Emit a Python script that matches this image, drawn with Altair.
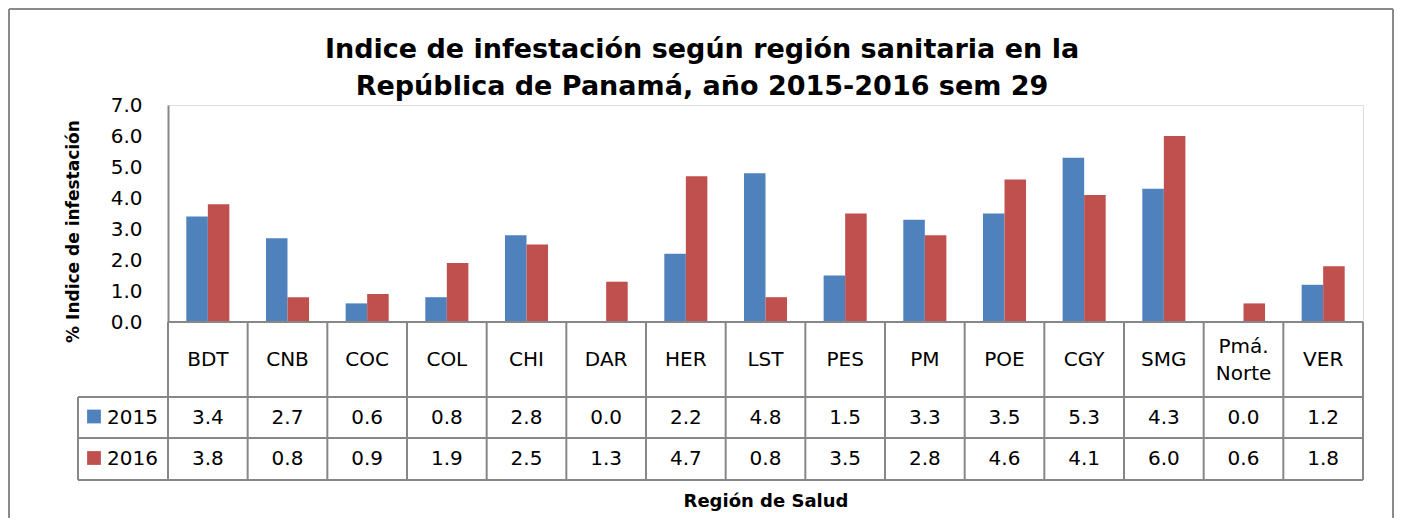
import altair as alt
import pandas as pd

# ---------------- data ----------------
regions = ["BDT", "CNB", "COC", "COL", "CHI", "DAR", "HER", "LST", "PES", "PM",
           "POE", "CGY", "SMG", "Pmá. Norte", "VER"]
header_labels = ["BDT", "CNB", "COC", "COL", "CHI", "DAR", "HER", "LST", "PES", "PM",
                 "POE", "CGY", "SMG", "Pmá.\nNorte", "VER"]
series = ["2015", "2016"]
values_2015 = [3.4, 2.7, 0.6, 0.8, 2.8, 0.0, 2.2, 4.8, 1.5, 3.3, 3.5, 5.3, 4.3, 0.0, 1.2]
values_2016 = [3.8, 0.8, 0.9, 1.9, 2.5, 1.3, 4.7, 0.8, 3.5, 2.8, 4.6, 4.1, 6.0, 0.6, 1.8]
colors = ["#4F81BD", "#C0504D"]
y_ticks = [0, 1, 2, 3, 4, 5, 6, 7]
title_lines = ["Indice de infestación según región sanitaria en la",
               "República de Panamá, año 2015-2016 sem 29"]
y_title = "% Indice de infestación"
x_title = "Región de Salud"

# ---------------- layout ----------------
F = "DejaVu Sans"
FS = 20
W, H = 1195, 217
PAD_L, PAD_T = 160, 97
TOTAL_W, TOTAL_H = 1386, 510
GRID = "#878787"
HDR_BOTTOM, R1_BOTTOM, R2_BOTTOM = 292, 333, 375
HDR_C, R1_C, R2_C = 255, 312.5, 354
LEG_LEFT = -90
LINE_H = 27
row_centers = [R1_C, R2_C]

df = pd.DataFrame({
    "region": regions * 2,
    "serie": [series[0]] * len(regions) + [series[1]] * len(regions),
    "value": values_2015 + values_2016,
})
hdr = pd.DataFrame({"region": regions, "label": header_labels})
hdr["nlines"] = hdr["label"].str.count("\n") + 1

xscale = alt.Scale(domain=regions, paddingInner=0, paddingOuter=0)

bars = alt.Chart(df).mark_bar().encode(
    x=alt.X("region:N", scale=xscale, sort=regions,
            axis=alt.Axis(labels=False, ticks=False, domain=False, grid=False,
                          title=x_title, titleFont=F, titleFontSize=18,
                          titleFontWeight="bold", titleColor="black",
                          titlePadding=170)),
    xOffset=alt.XOffset("serie:N", scale=alt.Scale(domain=series, paddingInner=0,
                                                    paddingOuter=0.85)),
    y=alt.Y("value:Q", scale=alt.Scale(domain=[0, 7], nice=False),
            axis=alt.Axis(values=y_ticks, format=".1f", ticks=False, grid=False,
                          domainColor=GRID, domainWidth=2,
                          labelFont=F, labelFontSize=FS, labelColor="black",
                          labelPadding=26,
                          title=y_title, titleFont=F, titleFontSize=17,
                          titleFontWeight="bold", titleColor="black",
                          titleX=-86, titleY=126)),
    color=alt.Color("serie:N", scale=alt.Scale(domain=series, range=colors), legend=None),
)

# table grid: vertical lines at category edges
vlines = alt.Chart(hdr).mark_rule(color=GRID, strokeWidth=2).encode(
    x=alt.X("region:N", scale=xscale, sort=regions, bandPosition=0),
    y=alt.value(H), y2=alt.value(R2_BOTTOM),
)
lines_df = pd.DataFrame({
    "x1": [0, LEG_LEFT, LEG_LEFT, LEG_LEFT, W, LEG_LEFT],
    "x2": [W, W, W, W, W, LEG_LEFT],
    "y1": [H, HDR_BOTTOM, R1_BOTTOM, R2_BOTTOM, H, HDR_BOTTOM],
    "y2": [H, HDR_BOTTOM, R1_BOTTOM, R2_BOTTOM, R2_BOTTOM, R2_BOTTOM],
})
hlines = alt.Chart(lines_df).mark_rule(color=GRID, strokeWidth=2).encode(
    x=alt.X("x1:Q", scale=None), x2="x2:Q",
    y=alt.Y("y1:Q", scale=None), y2="y2:Q",
)
# outer border (left, top, right)
border_df = pd.DataFrame({
    "x1": [-159, -159, 1225],
    "x2": [-159, 1225, 1225],
    "y1": [-96, -96, -96],
    "y2": [413, -96, 413],
})
border = alt.Chart(border_df).mark_rule(color="#8a8a8a", strokeWidth=2).encode(
    x=alt.X("x1:Q", scale=None), x2="x2:Q",
    y=alt.Y("y1:Q", scale=None), y2="y2:Q",
)

# chart title (two lines)
title_df = pd.DataFrame({"t": ["\n".join(title_lines)]})
title = alt.Chart(title_df).mark_text(font=F, fontSize=27, fontWeight="bold",
                                      color="black", lineBreak="\n", lineHeight=37,
                                      baseline="alphabetic", align="center").encode(
    x=alt.value(534), y=alt.value(-47), text="t:N",
)

layers = [bars, vlines, hlines, border, title]

# header row (category labels); multi-line labels are centred in the cell
for n in sorted(hdr["nlines"].unique()):
    sub = hdr[hdr["nlines"] == n]
    layers.append(
        alt.Chart(sub).mark_text(font=F, fontSize=FS, color="black",
                                 lineBreak="\n", lineHeight=LINE_H,
                                 baseline="middle",
                                 dy=-(int(n) - 1) * LINE_H / 2).encode(
            x=alt.X("region:N", scale=xscale, sort=regions),
            y=alt.value(HDR_C),
            text="label:N",
        )
    )

for i, s in enumerate(series):
    sub = df[df["serie"] == s]
    layers.append(
        alt.Chart(sub).mark_text(font=F, fontSize=FS, color="black",
                                 baseline="middle").encode(
            x=alt.X("region:N", scale=xscale, sort=regions),
            y=alt.value(row_centers[i]),
            text=alt.Text("value:Q", format=".1f"),
        )
    )
    key = pd.DataFrame({"serie": [s]})
    layers.append(
        alt.Chart(key).mark_square(size=190, opacity=1).encode(
            x=alt.value(-74), y=alt.value(row_centers[i] - 1),
            fill=alt.Fill("serie:N", scale=alt.Scale(domain=series, range=colors),
                          legend=None),
        )
    )
    layers.append(
        alt.Chart(key).mark_text(font=F, fontSize=FS, color="black", align="left",
                                 baseline="middle").encode(
            x=alt.value(-61), y=alt.value(row_centers[i]),
            text="serie:N",
        )
    )

chart = alt.layer(*layers).properties(
    width=W, height=H,
    autosize=alt.AutoSizeParams(type="none"),
    padding={"left": PAD_L, "top": PAD_T, "right": TOTAL_W - PAD_L - W,
             "bottom": TOTAL_H - PAD_T - H},
).configure_view(stroke=None).configure(background="white")

chart.save("out.html", embed_options={"renderer": "svg", "actions": False})
